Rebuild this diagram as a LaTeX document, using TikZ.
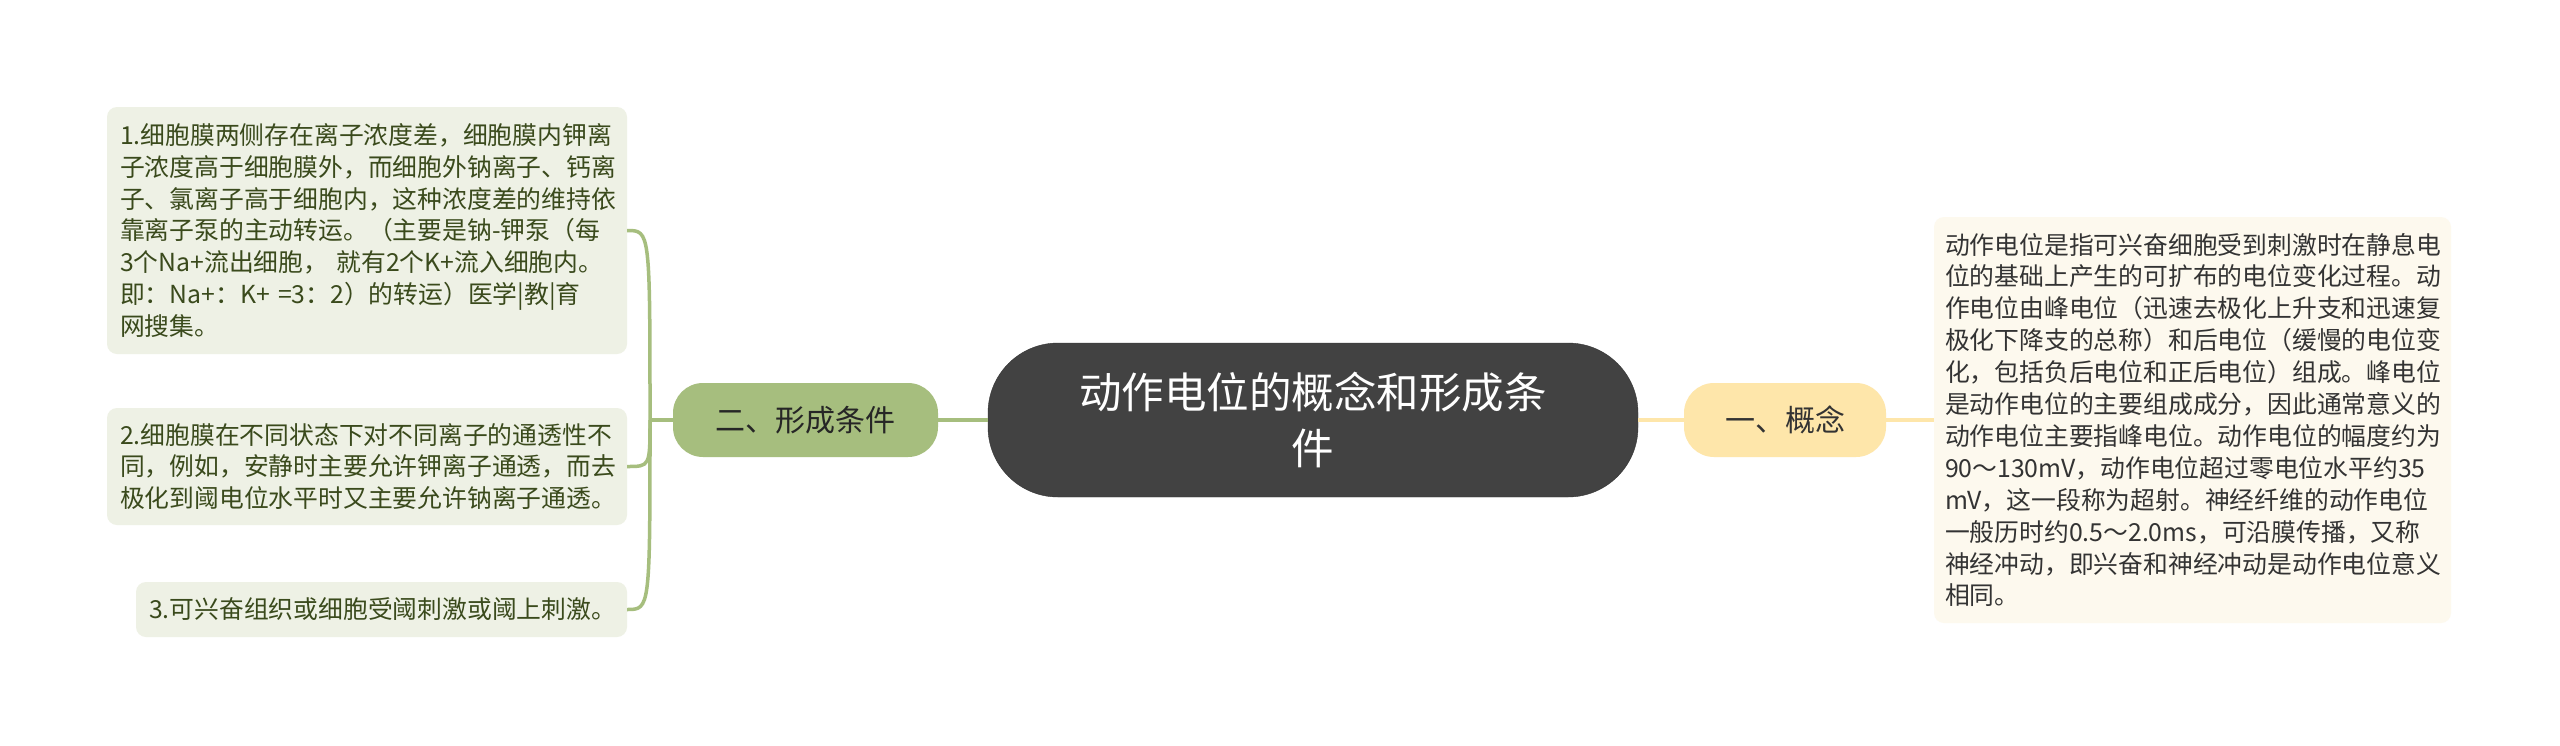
\documentclass[tikz,border=0pt]{standalone}
\usepackage{fontspec}
\setmainfont{Noto Sans CJK SC}
\usepackage{xcolor}
\usepackage{tikz}
\definecolor{rootfill}{HTML}{424242}
\definecolor{condfill}{HTML}{A6BE7E}
\definecolor{conceptfill}{HTML}{FEE6AA}
\definecolor{leaffill}{HTML}{EEF1E5}
\definecolor{deffill}{HTML}{FDF9EE}
\definecolor{leaftext}{HTML}{3A4A1C}
\definecolor{deftext}{HTML}{333333}

\begin{document}
\begin{tikzpicture}[x=1pt,y=-1pt]
\tikzstyle{every node}+=[inner sep=0pt]
\tikzstyle{leaf}=[fill=leaffill, rounded corners=10, text=leaftext, align=left, font=\fontsize{24.8}{31.7}\selectfont]
\tikzstyle{defbox}=[fill=deffill, rounded corners=10, text=deftext, align=left, font=\fontsize{24.8}{31.9}\selectfont]
\tikzstyle{branch}=[rounded corners=30, minimum height=74, font=\fontsize{30}{36}\selectfont]
\tikzstyle{gline}=[draw=condfill, line width=3.5]
\tikzstyle{yline}=[draw=conceptfill, line width=4]
\useasboundingbox [fill=white] (0,0) rectangle (2560,745);
% centre
\node [fill=rootfill, draw=rootfill!80!black, rounded corners=70, minimum width=650, minimum height=154, text=white, align=center, font=\fontsize{42.5}{56}\selectfont] (root) at (1313,420) {动作电位的概念和形成条\\件};
% branches
\node [branch, fill=condfill, text=black!85, minimum width=265] (cond) at (805.5,420) {二、形成条件};
\node [branch, fill=conceptfill, text=deftext, minimum width=202] (concept) at (1785,420) {一、概念};
% left leaves
\node [leaf, text width=494, minimum width=520, minimum height=247] (cond1) at (367,230.5) {1.细胞膜两侧存在离子浓度差，细胞膜内钾离\\子浓度高于细胞膜外，而细胞外钠离子、钙离\\子、氯离子高于细胞内，这种浓度差的维持依\\靠离子泵的主动转运。（主要是钠-钾泵（每\\3个Na+流出细胞， 就有2个K+流入细胞内。\\即：Na+：K+ =3：2）的转运）医学|教|育\\网搜集。};
\node [leaf, text width=494, minimum width=520, minimum height=117] (cond2) at (367,466.5) {2.细胞膜在不同状态下对不同离子的通透性不\\同，例如，安静时主要允许钾离子通透，而去\\极化到阈电位水平时又主要允许钠离子通透。};
\node [leaf, text width=465, minimum width=491, minimum height=55] (cond3) at (381.5,609.5) {3.可兴奋组织或细胞受阈刺激或阈上刺激。};
% right leaf
\node [defbox, text width=495, minimum width=517, minimum height=406] (def) at (2192.5,420) {动作电位是指可兴奋细胞受到刺激时在静息电\\位的基础上产生的可扩布的电位变化过程。动\\作电位由峰电位（迅速去极化上升支和迅速复\\极化下降支的总称）和后电位（缓慢的电位变\\化，包括负后电位和正后电位）组成。峰电位\\是动作电位的主要组成成分，因此通常意义的\\动作电位主要指峰电位。动作电位的幅度约为\\90～130mV，动作电位超过零电位水平约35\\mV，这一段称为超射。神经纤维的动作电位\\一般历时约0.5～2.0ms，可沿膜传播，又称\\神经冲动，即兴奋和神经冲动是动作电位意义\\相同。};
% connectors
\coordinate (jn) at (650,420);
\draw [gline] (root.west) -- (cond.east);
\draw [gline] (cond.west) -- (jn);
\foreach \leafname in {cond1,cond2,cond3}
  \draw [gline] (jn) .. controls (jn |- \leafname.east) .. (\leafname.east);
\draw [yline] (root.east) -- (concept.west);
\draw [yline] (concept.east) -- (def.west);
\end{tikzpicture}
\end{document}
